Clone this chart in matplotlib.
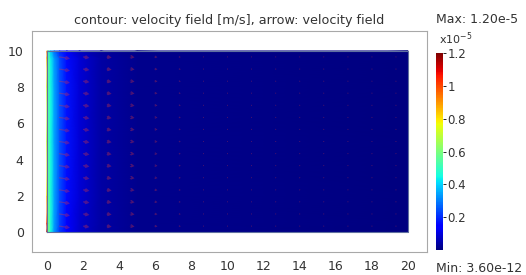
import numpy as np
import matplotlib.pyplot as plt

# speed field samples, units of 1e-5 m/s
field_x = [0.0, 0.08, 0.2, 0.4, 0.7, 1.1, 1.8, 3.0, 5.0, 20.0]
field_y = [0.0, 0.5, 2.0, 5.0, 8.0, 9.6, 10.0]
speed = [
    [1.20, 0.60, 0.46, 0.33, 0.22, 0.14, 0.08, 0.04, 0.015, 0.0],
    [1.05, 0.60, 0.46, 0.34, 0.23, 0.15, 0.08, 0.04, 0.015, 0.0],
    [0.80, 0.56, 0.46, 0.35, 0.24, 0.16, 0.09, 0.04, 0.015, 0.0],
    [0.70, 0.54, 0.45, 0.35, 0.25, 0.17, 0.09, 0.04, 0.015, 0.0],
    [0.72, 0.54, 0.45, 0.35, 0.25, 0.17, 0.09, 0.04, 0.015, 0.0],
    [0.85, 0.56, 0.44, 0.34, 0.24, 0.16, 0.09, 0.04, 0.015, 0.0],
    [0.95, 0.50, 0.38, 0.28, 0.19, 0.13, 0.07, 0.03, 0.01, 0.0],
]

# arrow grid
arrow_x = [0.67, 2.0, 3.33, 4.67, 6.0, 7.33, 8.67, 10.0, 11.33, 12.67, 14.0, 15.33, 16.67, 18.0, 19.33]
arrow_y = [0.33, 1.0, 1.67, 2.33, 3.0, 3.67, 4.33, 5.0, 5.67, 6.33, 7.0, 7.67, 8.33, 9.0, 9.67]
arrow_len = [0.6, 0.35, 0.25, 0.18, 0.12, 0.08, 0.05, 0.03, 0.02, 0.01, 0.01, 0.0, 0.0, 0.0, 0.0]

cbar_ticks = [0.2, 0.4, 0.6, 0.8, 1.0, 1.2]
cbar_labels = ['0.2', '0.4', '0.6', '0.8', '1', '1.2']

fig = plt.figure(figsize=(5.26, 2.75), dpi=100)
ax = fig.add_axes([0.0608, 0.0836, 0.751, 0.8036])

X, Y = np.meshgrid(field_x, field_y)
mesh = ax.pcolormesh(X, Y, np.array(speed), cmap='jet', vmin=0, vmax=1.2,
                     shading='gouraud', rasterized=True)

AX, AY = np.meshgrid(arrow_x, arrow_y)
U = np.tile(arrow_len, (len(arrow_y), 1))
V = -0.15 * U
ax.quiver(AX, AY, U, V, color='#e03838', alpha=0.35, angles='xy',
          scale_units='xy', scale=1, width=0.003, headwidth=3.5, headlength=3)

ax.plot([0, 20, 20, 0, 0], [0, 0, 10, 10, 0], color='#6070a0', lw=0.8)

ax.set_xlim(-0.83, 21.05)
ax.set_ylim(-1.1, 11.1)
ax.set_xticks(range(0, 21, 2))
ax.set_yticks(range(0, 11, 2))
ax.tick_params(length=0, labelsize=9, labelcolor='#333333', pad=6)
for s in ax.spines.values():
    s.set_color('#a8a8a8')
    s.set_linewidth(0.8)
ax.set_title('contour: velocity field [m/s], arrow: velocity field',
             fontsize=9.2, color='#333333', pad=5)

cax = fig.add_axes([0.829, 0.091, 0.0133, 0.716])
cb = fig.colorbar(mesh, cax=cax, ticks=cbar_ticks)
cb.ax.set_yticklabels(cbar_labels)
cb.ax.tick_params(length=2, width=0.6, labelsize=8.5, labelcolor='#333333', pad=1)
cb.outline.set_visible(False)
fig.text(0.835, 0.842, r'x10$^{-5}$', fontsize=8, color='#333333')
fig.text(0.829, 0.915, 'Max: 1.20e-5', fontsize=9, color='#333333')
fig.text(0.829, 0.012, 'Min: 3.60e-12', fontsize=9, color='#333333')

fig.savefig('out.png', dpi=100)
